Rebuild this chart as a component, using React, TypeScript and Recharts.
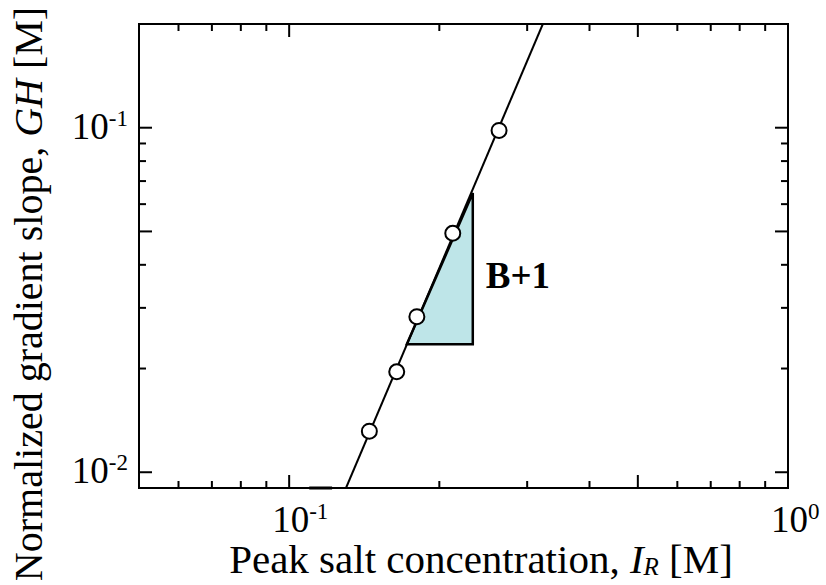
import React from "react";
import { ComposedChart, XAxis, YAxis, Scatter, ReferenceLine, Label } from "recharts";

// measured points (peak salt I_R vs normalized gradient slope GH)
const peakSalt = [0.1448, 0.1643, 0.1803, 0.2128, 0.2635];
const gradientSlope = [0.01316, 0.01957, 0.02828, 0.0494, 0.0982];

// fitted line end points
const fitSalt = [0.13, 0.3225];
const fitSlope = [0.009, 0.2];

// slope triangle
const triSalt = [0.1721, 0.2334, 0.2334];
const triSlope = [0.02351, 0.02351, 0.0646];
const slopeLabel = "B+1";

const xTicks = [0.05, 0.06, 0.07, 0.08, 0.09, 0.1, 0.2, 0.3, 0.4, 0.5, 0.6, 0.7, 0.8, 0.9, 1];
const xMajor = [0.05, 0.1, 0.5, 1];
const yTicks = [0.01, 0.02, 0.03, 0.04, 0.05, 0.06, 0.07, 0.08, 0.09, 0.1, 0.2];
const yMajor = [0.01, 0.05, 0.1];
const decadeLabels: Record<string, string> = { "0.01": "-2", "0.1": "-1", "1": "0" };

const FONT = "'Liberation Serif', 'Times New Roman', serif";

const points = peakSalt.map((x, i) => ({ x, y: gradientSlope[i] }));
const fitData = fitSalt.map((x, i) => ({ x, y: fitSlope[i] }));
const triData = triSalt.map((x, i) => ({ x, y: triSlope[i] }));
const labelPoint = [{ x: triSalt[2], y: Math.sqrt(triSlope[1] * triSlope[2]) }];

const makeTick = (side: "bottom" | "top" | "left" | "right") => (props: any) => {
  const { x, y, payload } = props;
  const v = payload.value;
  const major = side === "bottom" || side === "top" ? xMajor.includes(v) : yMajor.includes(v);
  const len = major ? 13 : 7;
  let line;
  if (side === "bottom") line = <line x1={x} y1={y} x2={x} y2={y - len} />;
  else if (side === "top") line = <line x1={x} y1={y} x2={x} y2={y + len} />;
  else if (side === "left") line = <line x1={x} y1={y} x2={x + len} y2={y} />;
  else line = <line x1={x} y1={y} x2={x - len} y2={y} />;
  const exp = decadeLabels[String(v)];
  let label = null;
  if (exp && side === "bottom") {
    label = (
      <text x={x - 17} y={y + 44} fontFamily={FONT} fontSize={37} fill="#000">
        10<tspan dy={-13} fontSize={23}>{exp}</tspan>
      </text>
    );
  } else if (exp && side === "left") {
    label = (
      <text x={x - 11} y={y + 11} textAnchor="end" fontFamily={FONT} fontSize={37} fill="#000">
        10<tspan dy={-13} fontSize={23}>{exp}</tspan>
      </text>
    );
  }
  return (
    <g>
      <g stroke="#000" strokeWidth={2}>{line}</g>
      {label}
    </g>
  );
};

const axisLine = { stroke: "#000", strokeWidth: 2, strokeLinecap: "square" as const };

const App = () => {
  return (
    <div style={{ position: "absolute", left: 0, top: 0 }}>
      <ComposedChart width={826} height={585} margin={{ top: 23, right: 37, bottom: 0, left: 0 }}>
        <XAxis
          xAxisId="b"
          dataKey="x"
          type="number"
          scale="log"
          domain={[0.05, 1]}
          allowDataOverflow
          ticks={xTicks}
          interval={0}
          height={97}
          tickSize={0}
          tickMargin={0}
          tickLine={false}
          axisLine={axisLine}
          tick={makeTick("bottom")}
        >
          <Label
            content={() => (
              <text x={481} y={573} textAnchor="middle" fontFamily={FONT} fontSize={41} fill="#000">
                Peak salt concentration,{" "}
                <tspan fontStyle="italic">I</tspan>
                <tspan fontStyle="italic" fontSize={25} dy={2}>R</tspan>
                <tspan dy={-2}> [M]</tspan>
              </text>
            )}
          />
        </XAxis>
        <XAxis
          xAxisId="t"
          dataKey="x"
          type="number"
          scale="log"
          orientation="top"
          domain={[0.05, 1]}
          allowDataOverflow
          ticks={xTicks}
          interval={0}
          height={1}
          tickSize={0}
          tickMargin={0}
          tickLine={false}
          axisLine={axisLine}
          tick={makeTick("top")}
        />
        <YAxis
          yAxisId="l"
          dataKey="y"
          type="number"
          scale="log"
          domain={[0.009, 0.2]}
          allowDataOverflow
          ticks={yTicks}
          interval={0}
          width={139}
          tickSize={0}
          tickMargin={0}
          tickLine={false}
          axisLine={axisLine}
          tick={makeTick("left")}
        >
          <Label
            content={() => (
              <text
                x={42}
                y={294}
                transform="rotate(-90 42 294)"
                textAnchor="middle"
                fontFamily={FONT}
                fontSize={40}
                fill="#000"
              >
                Normalized gradient slope, <tspan fontStyle="italic">GH</tspan> [M]
              </text>
            )}
          />
        </YAxis>
        <YAxis
          yAxisId="r"
          dataKey="y"
          type="number"
          scale="log"
          orientation="right"
          domain={[0.009, 0.2]}
          allowDataOverflow
          ticks={yTicks}
          interval={0}
          width={1}
          tickSize={0}
          tickMargin={0}
          tickLine={false}
          axisLine={axisLine}
          tick={makeTick("right")}
        />
        <ReferenceLine
          xAxisId="b"
          yAxisId="l"
          segment={[
            { x: 0.1097, y: 0.009 },
            { x: 0.1219, y: 0.009 },
          ]}
          stroke="#000"
          strokeWidth={3}
          ifOverflow="visible"
        />
        <Scatter
          xAxisId="b"
          yAxisId="l"
          data={triData}
          isAnimationActive={false}
          shape={() => <g />}
          line={(p: any) => (
            <polygon
              points={p.points.map((pt: any) => `${pt.x},${pt.y}`).join(" ")}
              fill="#bee5e8"
              stroke="#000"
              strokeWidth={2.5}
              strokeLinejoin="miter"
            />
          )}
        />
        <Scatter
          xAxisId="b"
          yAxisId="l"
          data={fitData}
          isAnimationActive={false}
          shape={() => <g />}
          line={{ stroke: "#000", strokeWidth: 2 }}
        />
        <Scatter
          xAxisId="b"
          yAxisId="l"
          data={points}
          isAnimationActive={false}
          shape={(p: any) => <circle cx={p.cx} cy={p.cy} r={7.5} fill="#fff" stroke="#000" strokeWidth={2} />}
        />
        <Scatter
          xAxisId="b"
          yAxisId="l"
          data={labelPoint}
          isAnimationActive={false}
          shape={(p: any) => (
            <text x={p.cx + 13} y={p.cy + 19} fontFamily={FONT} fontSize={37} fontWeight="bold" fill="#000">
              {slopeLabel}
            </text>
          )}
        />
      </ComposedChart>
    </div>
  );
};

export default App;
